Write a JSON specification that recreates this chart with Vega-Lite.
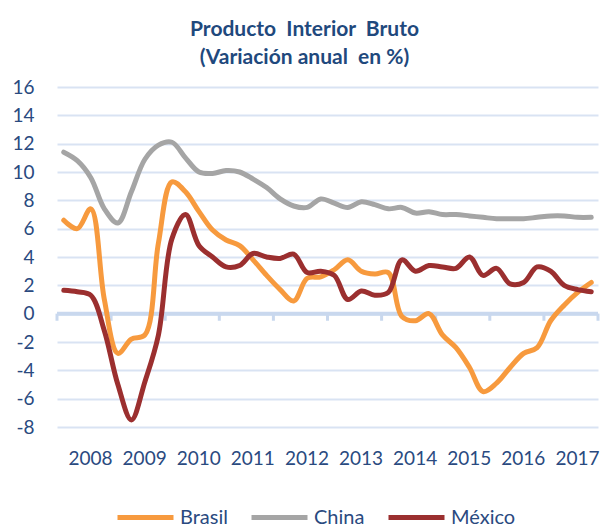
{
  "$schema": "https://vega.github.io/schema/vega-lite/v6.json",
  "width": 541,
  "height": 340,
  "autosize": {"type": "none"},
  "padding": {"left": 57, "top": 87, "right": 8, "bottom": 97},
  "background": "white",
  "title": {
    "text": ["Producto\u00a0 Interior\u00a0 Bruto", "(Variación anual\u00a0 en %)"],
    "font": "Lato", "fontSize": 21, "fontWeight": "bold", "color": "#1F497D",
    "lineHeight": 28, "anchor": "middle", "dx": -23, "offset": 10
  },
  "config": {"view": {"stroke": null}, "font": "Lato"},
  "datasets": {
    "ticks": [{"t": 2008}, {"t": 2009}, {"t": 2010}, {"t": 2011}, {"t": 2012}, {"t": 2013}, {"t": 2014}, {"t": 2015}, {"t": 2016}, {"t": 2017}, {"t": 2018}],
    "cero": [{"v": 0}],
    "pib": [
      {"serie": "Brasil", "t": 2008.125, "v": 6.6}, {"serie": "Brasil", "t": 2008.375, "v": 6.0}, {"serie": "Brasil", "t": 2008.625, "v": 7.4}, {"serie": "Brasil", "t": 2008.875, "v": 1.0},
      {"serie": "Brasil", "t": 2009.125, "v": -2.8}, {"serie": "Brasil", "t": 2009.375, "v": -1.8}, {"serie": "Brasil", "t": 2009.625, "v": -1.5}, {"serie": "Brasil", "t": 2009.875, "v": 5.0},
      {"serie": "Brasil", "t": 2010.125, "v": 9.3}, {"serie": "Brasil", "t": 2010.375, "v": 8.6}, {"serie": "Brasil", "t": 2010.625, "v": 7.2}, {"serie": "Brasil", "t": 2010.875, "v": 5.9},
      {"serie": "Brasil", "t": 2011.125, "v": 5.2}, {"serie": "Brasil", "t": 2011.375, "v": 4.8}, {"serie": "Brasil", "t": 2011.625, "v": 3.8}, {"serie": "Brasil", "t": 2011.875, "v": 2.7},
      {"serie": "Brasil", "t": 2012.125, "v": 1.7}, {"serie": "Brasil", "t": 2012.375, "v": 0.9}, {"serie": "Brasil", "t": 2012.625, "v": 2.5}, {"serie": "Brasil", "t": 2012.875, "v": 2.6},
      {"serie": "Brasil", "t": 2013.125, "v": 3.1}, {"serie": "Brasil", "t": 2013.375, "v": 3.8}, {"serie": "Brasil", "t": 2013.625, "v": 3.0}, {"serie": "Brasil", "t": 2013.875, "v": 2.8},
      {"serie": "Brasil", "t": 2014.125, "v": 2.9}, {"serie": "Brasil", "t": 2014.375, "v": -0.2}, {"serie": "Brasil", "t": 2014.625, "v": -0.5}, {"serie": "Brasil", "t": 2014.875, "v": 0.0},
      {"serie": "Brasil", "t": 2015.125, "v": -1.5}, {"serie": "Brasil", "t": 2015.375, "v": -2.4}, {"serie": "Brasil", "t": 2015.625, "v": -3.8}, {"serie": "Brasil", "t": 2015.875, "v": -5.5},
      {"serie": "Brasil", "t": 2016.125, "v": -4.9}, {"serie": "Brasil", "t": 2016.375, "v": -3.8}, {"serie": "Brasil", "t": 2016.625, "v": -2.8}, {"serie": "Brasil", "t": 2016.875, "v": -2.4},
      {"serie": "Brasil", "t": 2017.125, "v": -0.5}, {"serie": "Brasil", "t": 2017.375, "v": 0.6}, {"serie": "Brasil", "t": 2017.625, "v": 1.5}, {"serie": "Brasil", "t": 2017.875, "v": 2.2},

      {"serie": "China", "t": 2008.125, "v": 11.4}, {"serie": "China", "t": 2008.375, "v": 10.8}, {"serie": "China", "t": 2008.625, "v": 9.6}, {"serie": "China", "t": 2008.875, "v": 7.4},
      {"serie": "China", "t": 2009.125, "v": 6.4}, {"serie": "China", "t": 2009.375, "v": 8.6}, {"serie": "China", "t": 2009.625, "v": 10.9}, {"serie": "China", "t": 2009.875, "v": 11.9},
      {"serie": "China", "t": 2010.125, "v": 12.1}, {"serie": "China", "t": 2010.375, "v": 11.0}, {"serie": "China", "t": 2010.625, "v": 10.0}, {"serie": "China", "t": 2010.875, "v": 9.9},
      {"serie": "China", "t": 2011.125, "v": 10.1}, {"serie": "China", "t": 2011.375, "v": 10.0}, {"serie": "China", "t": 2011.625, "v": 9.5}, {"serie": "China", "t": 2011.875, "v": 8.9},
      {"serie": "China", "t": 2012.125, "v": 8.1}, {"serie": "China", "t": 2012.375, "v": 7.6}, {"serie": "China", "t": 2012.625, "v": 7.5}, {"serie": "China", "t": 2012.875, "v": 8.1},
      {"serie": "China", "t": 2013.125, "v": 7.8}, {"serie": "China", "t": 2013.375, "v": 7.5}, {"serie": "China", "t": 2013.625, "v": 7.9}, {"serie": "China", "t": 2013.875, "v": 7.7},
      {"serie": "China", "t": 2014.125, "v": 7.4}, {"serie": "China", "t": 2014.375, "v": 7.5}, {"serie": "China", "t": 2014.625, "v": 7.1}, {"serie": "China", "t": 2014.875, "v": 7.2},
      {"serie": "China", "t": 2015.125, "v": 7.0}, {"serie": "China", "t": 2015.375, "v": 7.0}, {"serie": "China", "t": 2015.625, "v": 6.9}, {"serie": "China", "t": 2015.875, "v": 6.8},
      {"serie": "China", "t": 2016.125, "v": 6.7}, {"serie": "China", "t": 2016.375, "v": 6.7}, {"serie": "China", "t": 2016.625, "v": 6.7}, {"serie": "China", "t": 2016.875, "v": 6.8},
      {"serie": "China", "t": 2017.125, "v": 6.9}, {"serie": "China", "t": 2017.375, "v": 6.9}, {"serie": "China", "t": 2017.625, "v": 6.8}, {"serie": "China", "t": 2017.875, "v": 6.8},

      {"serie": "México", "t": 2008.125, "v": 1.65}, {"serie": "México", "t": 2008.375, "v": 1.55}, {"serie": "México", "t": 2008.625, "v": 1.3}, {"serie": "México", "t": 2008.875, "v": -1.2},
      {"serie": "México", "t": 2009.125, "v": -5.0}, {"serie": "México", "t": 2009.375, "v": -7.5}, {"serie": "México", "t": 2009.625, "v": -4.8}, {"serie": "México", "t": 2009.875, "v": -1.5},
      {"serie": "México", "t": 2010.125, "v": 5.3}, {"serie": "México", "t": 2010.375, "v": 7.0}, {"serie": "México", "t": 2010.625, "v": 4.8}, {"serie": "México", "t": 2010.875, "v": 4.0},
      {"serie": "México", "t": 2011.125, "v": 3.3}, {"serie": "México", "t": 2011.375, "v": 3.4}, {"serie": "México", "t": 2011.625, "v": 4.25}, {"serie": "México", "t": 2011.875, "v": 4.0},
      {"serie": "México", "t": 2012.125, "v": 3.9}, {"serie": "México", "t": 2012.375, "v": 4.2}, {"serie": "México", "t": 2012.625, "v": 2.9}, {"serie": "México", "t": 2012.875, "v": 3.0},
      {"serie": "México", "t": 2013.125, "v": 2.7}, {"serie": "México", "t": 2013.375, "v": 1.0}, {"serie": "México", "t": 2013.625, "v": 1.6}, {"serie": "México", "t": 2013.875, "v": 1.3},
      {"serie": "México", "t": 2014.125, "v": 1.5}, {"serie": "México", "t": 2014.375, "v": 3.8}, {"serie": "México", "t": 2014.625, "v": 3.0}, {"serie": "México", "t": 2014.875, "v": 3.4},
      {"serie": "México", "t": 2015.125, "v": 3.3}, {"serie": "México", "t": 2015.375, "v": 3.2}, {"serie": "México", "t": 2015.625, "v": 4.0}, {"serie": "México", "t": 2015.875, "v": 2.7},
      {"serie": "México", "t": 2016.125, "v": 3.2}, {"serie": "México", "t": 2016.375, "v": 2.1}, {"serie": "México", "t": 2016.625, "v": 2.2}, {"serie": "México", "t": 2016.875, "v": 3.3},
      {"serie": "México", "t": 2017.125, "v": 3.0}, {"serie": "México", "t": 2017.375, "v": 2.0}, {"serie": "México", "t": 2017.625, "v": 1.7}, {"serie": "México", "t": 2017.875, "v": 1.55}
    ]
  },
  "layer": [
    {
      "data": {"name": "cero"},
      "mark": {"type": "rule", "stroke": "#C9D8EE", "strokeWidth": 4},
      "encoding": {
        "y": {"field": "v", "type": "quantitative", "title": null,
              "scale": {"domain": [-8, 16], "nice": false, "zero": false},
              "axis": {"values": [-8, -6, -4, -2, 0, 2, 4, 6, 8, 10, 12, 14, 16], "labelExpr": "toString(datum.value)", "domain": false, "ticks": false, "tickSize": 0,
                       "grid": true, "gridColor": "#D9E3F3", "gridWidth": 2, "labelOverlap": false, "labelFlush": false,
                       "labelFont": "Lato", "labelFontSize": 19, "labelColor": "#2A4A7F", "labelPadding": 23}}
      }
    },
    {
      "data": {"name": "ticks"},
      "mark": {"type": "rule", "stroke": "#C9D8EE", "strokeWidth": 3},
      "encoding": {
        "x": {"field": "t", "type": "quantitative", "title": null,
              "scale": {"domain": [2008, 2018], "nice": false, "zero": false},
              "axis": {"values": [2008.5, 2009.5, 2010.5, 2011.5, 2012.5, 2013.5, 2014.5, 2015.5, 2016.5, 2017.5],
                       "labelExpr": "toString(floor(datum.value))", "domain": false, "ticks": false, "tickSize": 0, "grid": false,
                       "labelFont": "Lato", "labelFontSize": 19, "labelColor": "#2A4A7F", "labelPadding": 22, "labelOffset": 6, "labelFlush": false, "labelOverlap": false}},
        "y": {"datum": 0, "type": "quantitative", "title": null,
              "axis": {"values": [-8, -6, -4, -2, 0, 2, 4, 6, 8, 10, 12, 14, 16], "labelExpr": "toString(datum.value)", "domain": false, "ticks": false, "tickSize": 0,
                       "grid": true, "gridColor": "#D9E3F3", "gridWidth": 2, "labelOverlap": false, "labelFlush": false,
                       "labelFont": "Lato", "labelFontSize": 19, "labelColor": "#2A4A7F", "labelPadding": 23}},
        "y2": {"datum": -0.5}
      }
    },
    {
      "data": {"name": "pib"},
      "mark": {"type": "line", "interpolate": "catmull-rom", "strokeWidth": 5, "strokeCap": "round", "strokeJoin": "round"},
      "encoding": {
        "x": {"field": "t", "type": "quantitative", "title": null,
              "axis": {"values": [2008.5, 2009.5, 2010.5, 2011.5, 2012.5, 2013.5, 2014.5, 2015.5, 2016.5, 2017.5],
                       "labelExpr": "toString(floor(datum.value))", "domain": false, "ticks": false, "tickSize": 0, "grid": false,
                       "labelFont": "Lato", "labelFontSize": 19, "labelColor": "#2A4A7F", "labelPadding": 22, "labelOffset": 6, "labelFlush": false, "labelOverlap": false}},
        "y": {"field": "v", "type": "quantitative", "title": null,
              "axis": {"values": [-8, -6, -4, -2, 0, 2, 4, 6, 8, 10, 12, 14, 16], "labelExpr": "toString(datum.value)", "domain": false, "ticks": false, "tickSize": 0,
                       "grid": true, "gridColor": "#D9E3F3", "gridWidth": 2, "labelOverlap": false, "labelFlush": false,
                       "labelFont": "Lato", "labelFontSize": 19, "labelColor": "#2A4A7F", "labelPadding": 23}},
        "color": {"field": "serie", "type": "nominal",
                  "scale": {"domain": ["Brasil", "China", "México"], "range": ["#F79A3E", "#A5A5A5", "#9B2F2F"]},
                  "legend": {"title": null, "orient": "none", "direction": "horizontal", "legendX": 58, "legendY": 400,
                             "gridAlign": "none", "symbolType": "stroke", "symbolSize": 3136, "symbolStrokeWidth": 5,
                             "labelFont": "Lato", "labelFontSize": 20, "labelColor": "#2A4A7F", "labelOffset": 4, "columnPadding": 13}}
      }
    }
  ]
}
